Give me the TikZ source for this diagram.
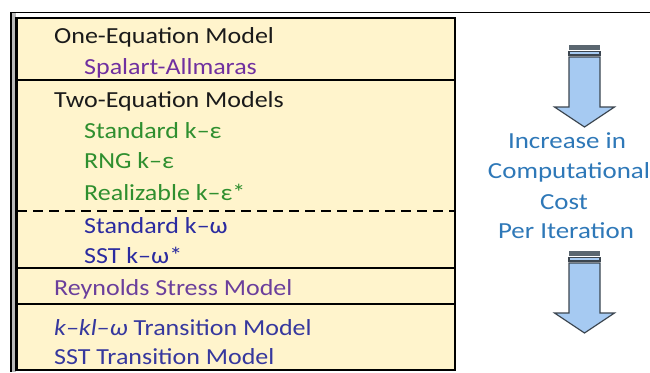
\documentclass[tikz,border=0pt]{standalone}
\usepackage{fontspec}
\setmainfont{Carlito}
\usepackage{graphicx}
\definecolor{boxyellow}{HTML}{FFF4CC}
\definecolor{txtblack}{HTML}{1A1A1A}
\definecolor{sapurple}{HTML}{7030A0}
\definecolor{rspurple}{HTML}{6B3F9C}
\definecolor{kegreen}{HTML}{2F8F2F}
\definecolor{kwblue}{HTML}{2B2BA0}
\definecolor{trblue}{HTML}{36389E}
\definecolor{costblue}{HTML}{2E78B8}
\definecolor{arrowfill}{HTML}{A6CAF2}
\definecolor{arrowline}{HTML}{3C4650}
\definecolor{arrowdark}{HTML}{5A6670}
\newcommand\strx[1]{\scalebox{1.13}[1]{#1}}
\newcommand\strr[1]{\scalebox{1.17}[1]{#1}}
\begin{document}
\begin{tikzpicture}[x=1pt,y=-1pt,
  txt/.style={anchor=base west, inner sep=0pt, font=\fontsize{23}{27}\selectfont},
  rtxt/.style={anchor=base, inner sep=0pt, text=costblue, font=\fontsize{23}{27}\selectfont},
  sepline/.style={line width=2pt, black},
  downarr/.pic={
    \fill[arrowdark] (-15.5,0) rectangle (15.5,5);
    \draw[arrowline, line width=1.2pt, fill=arrowfill] (-15.5,6.5) rectangle (15.5,10);
    \draw[arrowline, line width=1.2pt, fill=arrowfill, line join=miter]
      (-15.5,12) -- (15.5,12) -- (15.5,62) -- (30,62) -- (0,82) -- (-30,62) -- (-15.5,62) -- cycle;
  }]
\useasboundingbox (0,0) rectangle (650,372);
\fill[white] (0,0) rectangle (650,372);
% frame
\draw[line width=1pt] (10,12.5) -- (650,12.5);
\fill[gray!55] (12,13) rectangle (16,372);
\draw[line width=2pt] (11,12) -- (11,372);
\draw[fill=boxyellow, line width=2.5pt] (16.5,18) rectangle (455,370);
% separators
\draw[sepline] (16.5,80) -- (455,80);
\draw[sepline, line width=2.5pt, dash pattern=on 10pt off 6pt] (17,211) -- (455,211);
\draw[sepline] (16.5,268) -- (455,268);
\draw[sepline] (16.5,304) -- (455,304);
% texts
\node[txt, text=txtblack] (one) at (54,43) {\strx{One-Equation Model}};
\node[txt, text=sapurple] (sa) at (84,74) {\strx{Spalart-Allmaras}};
\node[txt, text=txtblack] (two) at (54,107) {\strx{Two-Equation Models}};
\node[txt, text=kegreen] (ske) at (84,138) {\strx{Standard k–ε}};
\node[txt, text=kegreen] (rng) at (84,168) {\strx{RNG k–ε}};
\node[txt, text=kegreen] (rke) at (84,200) {\strx{Realizable k–ε*}};
\node[txt, text=kwblue] (skw) at (84,233) {\strx{Standard k–ω}};
\node[txt, text=kwblue] (sst) at (84,263) {\strx{SST k–ω*}};
\node[txt, text=rspurple] (rsm) at (54,295) {\strx{Reynolds Stress Model}};
\node[txt, text=trblue] (kkl) at (54,335) {\strx{\textit{k–kl–ω} Transition Model}};
\node[txt, text=trblue] (sstt) at (54,364) {\strx{SST Transition Model}};
% right side
\pic at (584.5,45) {downarr};
\pic at (584.5,251) {downarr};
\node[rtxt] (inc) at (567,148) {\strr{Increase in}};
\node[rtxt] (comp) at (569,178) {\strr{Computational}};
\node[rtxt] (cost) at (564,209) {\strr{Cost}};
\node[rtxt] (per) at (566,238) {\strr{Per Iteration}};
\end{tikzpicture}
\end{document}
